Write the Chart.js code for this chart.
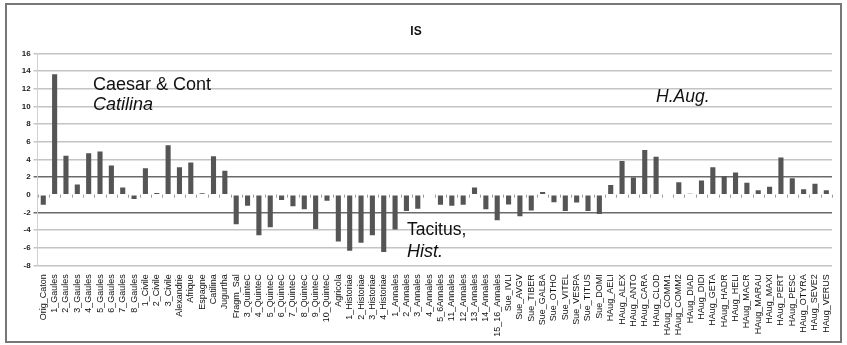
<!DOCTYPE html>
<html>
<head>
<meta charset="utf-8">
<script src="https://cdn.jsdelivr.net/npm/chart.js@4.4.1/dist/chart.umd.min.js"></script>
<style>
  html, body { margin: 0; padding: 0; background: #fff; }
  #wrap { position: relative; width: 847px; height: 345px; }
  #frame { position: absolute; left: 5px; top: 3px; width: 833px; height: 336px; border: 2px solid #777; pointer-events: none; }
</style>
</head>
<body>
<div id="wrap">
  <canvas id="c" width="847" height="345"></canvas>
  <div id="frame"></div>
</div>
<script>
const categories = [
  "Orig_Caton","1_Gaules","2_Gaules","3_Gaules","4_Gaules","5_Gaules","6_Gaules","7_Gaules","8_Gaules",
  "1_Civile","2_Civile","3_Civile","Alexandrie","Afrique","Espagne","Catilina","Jugurtha","Fragm_Sal",
  "3_QuinteC","4_QuinteC","5_QuinteC","6_QuinteC","7_QuinteC","8_QuinteC","9_QuinteC","10_QuinteC",
  "Agricola","1_Historiae","2_Historiae","3_Historiae","4_Historiae",
  "1_Annales","2_Annales","3_Annales","4_Annales","5_6Annales","11_Annales","12_Annales","13_Annales","14_Annales","15_16_Annales",
  "Sue_IVLI","Sue_AVGV","Sue_TIBER","Sue_GALBA","Sue_OTHO","Sue_VITEL","Sue_VESPA","Sue_TITUS","Sue_DOMI",
  "HAug_AELI","HAug_ALEX","HAug_ANTO","HAug_CARA","HAug_CLOD","HAug_COMM1","HAug_COMM2","HAug_DIAD","HAug_DIDI",
  "HAug_GETA","HAug_HADR","HAug_HELI","HAug_MACR","HAug_MARAU","HAug_MAXI","HAug_PERT","HAug_PESC",
  "HAug_OTYRA","HAug_SEVE2","HAug_VERUS"
];
const isValues = [
  -1.15, 13.65, 4.4, 1.15, 4.7, 4.9, 3.3, 0.8, -0.5,
  3.0, 0.2, 5.6, 3.1, 3.65, 0.15, 4.35, 2.7, -3.35,
  -1.25, -4.6, -3.7, -0.6, -1.3, -1.65, -3.9, -0.7,
  -5.3, -6.35, -5.45, -4.6, -6.5,
  -3.95, -1.85, -1.6, -0.1, -1.15, -1.25, -1.15, 0.8, -1.65, -2.9,
  -1.1, -2.45, -1.8, 0.3, -0.85, -1.85, -0.9, -1.85, -2.2,
  1.1, 3.8, 1.95, 5.05, 4.3, 0, 1.4, 0.1, 1.6,
  3.1, 2.1, 2.5, 1.35, 0.5, 0.9, 4.2, 1.85,
  0.6, 1.25, 0.5
];
const yTicks = [-8, -6, -4, -2, 0, 2, 4, 6, 8, 10, 12, 14, 16];
const chartTitle = "IS";
const notes = [
  { text: "Caesar & Cont", italic: false },
  { text: "Catilina", italic: true },
  { text: "Tacitus,", italic: false },
  { text: "Hist.", italic: true },
  { text: "H.Aug.", italic: true }
];

const notePos = [[93, 89.5, 18], [93, 110, 18], [407, 235, 17.5], [407, 256.5, 18], [656, 101.5, 17.5]];

const annotPlugin = {
  id: 'annot',
  afterDatasetsDraw(chart) {
    const ctx = chart.ctx;
    const xs = chart.scales.x, ys = chart.scales.y;
    const y0 = ys.getPixelForValue(0);
    ctx.save();
    ctx.strokeStyle = '#9a9a9a';
    ctx.lineWidth = 1;
    for (let i = 0; i <= categories.length; i++) {
      const x = Math.round(xs.getPixelForValue(i - 0.5)) + 0.5;
      ctx.beginPath(); ctx.moveTo(x, y0); ctx.lineTo(x, y0 + 3); ctx.stroke();
    }
    ctx.fillStyle = '#111';
    ctx.textBaseline = 'alphabetic';
    ctx.textAlign = 'left';
    notes.forEach((n, i) => {
      const p = notePos[i];
      ctx.font = (n.italic ? 'italic ' : '') + p[2] + 'px "Liberation Sans", Arial, sans-serif';
      ctx.fillText(n.text, p[0], p[1]);
    });
    ctx.restore();
  }
};

new Chart(document.getElementById('c'), {
  type: 'bar',
  data: {
    labels: categories,
    datasets: [{
      label: chartTitle,
      data: isValues,
      backgroundColor: '#555555',
      borderWidth: 0,
      categoryPercentage: 1.0,
      barPercentage: 0.45
    }]
  },
  options: {
    responsive: false,
    animation: false,
    layout: { padding: { left: 0, right: 15, top: 0, bottom: 0 } },
    plugins: {
      legend: { display: false },
      tooltip: { enabled: false },
      title: {
        display: true,
        text: chartTitle,
        color: '#111',
        font: { family: '"Liberation Sans", Arial, sans-serif', size: 12, weight: 'bold' },
        padding: { top: 24, bottom: 15 }
      }
    },
    scales: {
      x: {
        grid: { display: false, drawTicks: false },
        border: { display: false },
        ticks: {
          autoSkip: false,
          maxRotation: 90,
          minRotation: 90,
          padding: 9,
          color: '#111',
          font: { family: '"Liberation Sans Narrow", "Liberation Sans", Arial, sans-serif', size: 9 }
        },
        afterFit(scale) { scale.height = 79.7; }
      },
      y: {
        min: -8,
        max: 16,
        afterBuildTicks(scale) { scale.ticks = yTicks.map(v => ({ value: v })); },
        grid: {
          color(ctx) {
            const v = ctx.tick && ctx.tick.value;
            if (v === 2 || v === -2) return '#6a6a6a';
            if (v === 0) return 'rgba(0,0,0,0)';
            return '#c4c4c4';
          },
          lineWidth: 1.5,
          tickLength: 4
        },
        border: { display: true, color: '#d0d0d0', width: 1 },
        ticks: {
          padding: 3,
          color: '#222',
          font: { family: '"Liberation Sans", Arial, sans-serif', size: 8, weight: 'bold' }
        },
        afterFit(scale) { scale.width = 37.6; }
      }
    }
  },
  plugins: [annotPlugin]
});
</script>
</body>
</html>
